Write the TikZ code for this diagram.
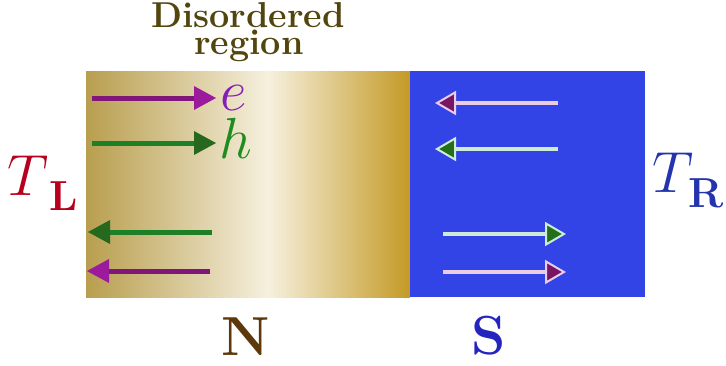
\RequirePackage{fix-cm}
\documentclass[tikz,border=0pt]{standalone}
\usetikzlibrary{arrows.meta}
\definecolor{goldL}{RGB}{184,158,78}
\definecolor{cream}{RGB}{246,240,222}
\definecolor{goldR}{RGB}{196,154,38}
\definecolor{blueS}{RGB}{51,68,230}
\definecolor{purShaft}{RGB}{128,22,122}
\definecolor{purHead}{RGB}{156,26,156}
\definecolor{grnShaft}{RGB}{30,128,38}
\definecolor{grnHead}{RGB}{38,104,30}
\definecolor{pinkShaft}{RGB}{234,204,228}
\definecolor{pinkHead}{RGB}{120,22,100}
\definecolor{mintShaft}{RGB}{206,236,216}
\definecolor{mintHead}{RGB}{36,112,26}
\definecolor{eCol}{RGB}{132,30,182}
\definecolor{hCol}{RGB}{30,140,30}
\definecolor{TLcol}{RGB}{182,0,30}
\definecolor{TRcol}{RGB}{36,52,172}
\definecolor{Ncol}{RGB}{92,56,10}
\definecolor{Scol}{RGB}{36,36,190}
\definecolor{titleCol}{RGB}{82,70,14}
\newcommand{\subbf}[1]{\raisebox{-15.5pt}{\fontsize{42}{42}\selectfont\bfseries #1}}
\tikzset{
  narrowstyle/.style={draw=#1Shaft, line width=5pt,
    -{Triangle[length=22pt,width=24pt,color=#1Head,line width=0pt]}},
  sarrowstyle/.style={draw=#1Shaft, line width=4.5pt,
    -{Triangle[length=21pt,width=24pt,fill=#1Head,line width=2pt]}},
  mathlabel/.style={inner sep=0pt, font=\fontsize{58}{64}\selectfont},
  bigletter/.style={inner sep=0pt, font=\fontsize{55}{60}\selectfont\bfseries},
  titletext/.style={inner sep=0pt, text=titleCol, font=\fontsize{36}{40}\selectfont\bfseries}
}
\begin{document}
\begin{tikzpicture}[x=1pt,y=-1pt]
\useasboundingbox (0,0) rectangle (726,365);
% N region (disordered, gradient)
\shade[left color=goldL, right color=cream] (86,71) rectangle (268.5,297);
\shade[left color=cream, right color=goldR] (268,71) rectangle (410,297);
% S region
\fill[blueS] (410,71) rectangle (645,297);

% arrow end points
\coordinate (e1) at (92,98);   \coordinate (e2) at (216,98);
\coordinate (h1) at (92,143);  \coordinate (h2) at (216,143);
\coordinate (g1) at (212,232); \coordinate (g2) at (88,232);
\coordinate (p1) at (210,271); \coordinate (p2) at (87,271);
\coordinate (s1a) at (558,103); \coordinate (s1b) at (435,103);
\coordinate (s2a) at (558,149); \coordinate (s2b) at (435,149);
\coordinate (s3a) at (443,234); \coordinate (s3b) at (566,234);
\coordinate (s4a) at (443,272); \coordinate (s4b) at (566,272);

\draw[narrowstyle=pur] (e1) -- (e2);
\draw[narrowstyle=grn] (h1) -- (h2);
\draw[narrowstyle=grn] (g1) -- (g2);
\draw[narrowstyle=pur] (p1) -- (p2);

\draw[sarrowstyle=pink] (s1a) -- (s1b);
\draw[sarrowstyle=mint] (s2a) -- (s2b);
\draw[sarrowstyle=mint] (s3a) -- (s3b);
\draw[sarrowstyle=pink] (s4a) -- (s4b);

% labels
\node[mathlabel, text=eCol, anchor=base west] (elab) at (220,110) {$e$};
\node[mathlabel, text=hCol, anchor=base west] (hlab) at (219,158) {$h$};
\node[mathlabel, text=TLcol, anchor=base west] (TL) at (7,195) {$T$\kern1pt\subbf{L}};
\node[mathlabel, text=TRcol, anchor=base west] (TR) at (652,192) {$T$\kern-5pt\subbf{R}};
\node[titletext, anchor=base] (t1) at (248,27) {Disordered};
\node[titletext, anchor=base] (t2) at (249,54) {region};
\node[bigletter, text=Ncol, anchor=base] (Nlab) at (246,355) {N};
\node[bigletter, text=Scol, anchor=base] (Slab) at (489,354) {S};
\end{tikzpicture}
\end{document}
